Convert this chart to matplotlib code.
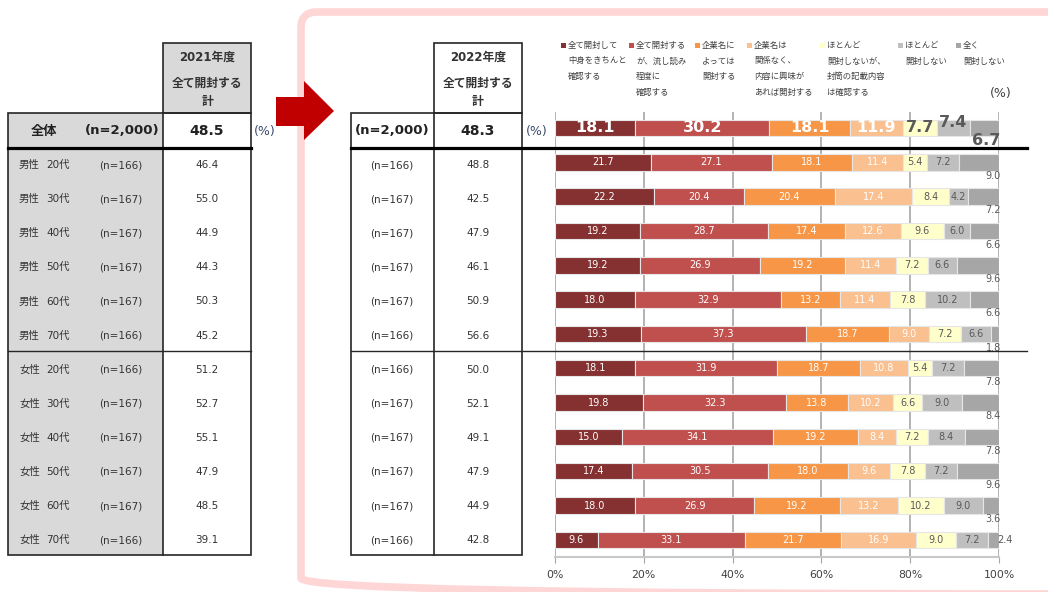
import numpy as np
import matplotlib
matplotlib.use('Agg')
import matplotlib.pyplot as plt
from matplotlib.patches import Rectangle, Polygon, FancyBboxPatch

plt.rcParams['font.family'] = ['DejaVu Sans', 'Noto Sans CJK JP']

# ---- data ----
legend_labels = [
    '全て開封して\n中身をきちんと\n確認する',
    '全て開封する\nが、流し読み\n程度に\n確認する',
    '企業名に\nよっては\n開封する',
    '企業名は\n関係なく、\n内容に興味が\nあれば開封する',
    'ほとんど\n開封しないが、\n封筒の記載内容\nは確認する',
    'ほとんど\n開封しない',
    '全く\n開封しない',
]
seg_colors = ['#853131', '#c0504d', '#f79646', '#fac090', '#ffffcc', '#bfbfbf', '#a6a6a6']

groups = ['男性 20代', '男性 30代', '男性 40代', '男性 50代', '男性 60代', '男性 70代',
          '女性 20代', '女性 30代', '女性 40代', '女性 50代', '女性 60代', '女性 70代']
n_size = [166, 167, 167, 167, 167, 166, 166, 167, 167, 167, 167, 166]
total_2021 = [46.4, 55.0, 44.9, 44.3, 50.3, 45.2, 51.2, 52.7, 55.1, 47.9, 48.5, 39.1]
total_2022 = [48.8, 42.5, 47.9, 46.1, 50.9, 56.6, 50.0, 52.1, 49.1, 47.9, 44.9, 42.8]
overall_2021 = 48.5
overall_2022 = 48.3

overall_shares = [18.1, 30.2, 18.1, 11.9, 7.7, 7.4, 6.7]
group_shares = [
    [21.7, 27.1, 18.1, 11.4, 5.4, 7.2, 9.0],
    [22.2, 20.4, 20.4, 17.4, 8.4, 4.2, 7.2],
    [19.2, 28.7, 17.4, 12.6, 9.6, 6.0, 6.6],
    [19.2, 26.9, 19.2, 11.4, 7.2, 6.6, 9.6],
    [18.0, 32.9, 13.2, 11.4, 7.8, 10.2, 6.6],
    [19.3, 37.3, 18.7, 9.0, 7.2, 6.6, 1.8],
    [18.1, 31.9, 18.7, 10.8, 5.4, 7.2, 7.8],
    [19.8, 32.3, 13.8, 10.2, 6.6, 9.0, 8.4],
    [15.0, 34.1, 19.2, 8.4, 7.2, 8.4, 7.8],
    [17.4, 30.5, 18.0, 9.6, 7.8, 7.2, 9.6],
    [18.0, 26.9, 19.2, 13.2, 10.2, 9.0, 3.6],
    [9.6, 33.1, 21.7, 16.9, 9.0, 7.2, 2.4],
]
x_ticks = [0, 20, 40, 60, 80, 100]

TXT = '#333333'
LINE = '#262626'
GRAY = '#d9d9d9'
PCT = '#3b4a6b'

fig = plt.figure(figsize=(10.48, 5.92), dpi=100)
fig.patch.set_facecolor('white')

# stacked bar chart
ax = fig.add_axes([555 / 1048, (592 - 557) / 592, 444 / 1048, 445 / 592], zorder=1)
# overlay in pixel coordinates for tables, arrow, frame, legend
bg = fig.add_axes([0, 0, 1, 1], zorder=3)
bg.set_xlim(0, 1048)
bg.set_ylim(592, 0)
bg.axis('off')

# ---- bars ----
data = np.array([overall_shares] + group_shares)
lefts = np.cumsum(data, axis=1) - data
ypos = np.arange(len(data))
for j in range(data.shape[1]):
    ax.barh(ypos, data[:, j], left=lefts[:, j], height=0.48, color=seg_colors[j],
            edgecolor='#e6e6e6', linewidth=0.8, zorder=2)

for i in ypos:
    big = i == 0
    fs = 11.5 if big else 7
    fw = 'bold' if big else 'normal'
    for j in range(6):
        v = data[i, j]
        col = 'white' if j < 4 else '#595959'
        yy = i - 0.17 if (big and j == 5) else i
        ax.text(lefts[i, j] + v / 2, yy, f'{v:.1f}', ha='center', va='center',
                fontsize=fs, fontweight=fw, color=col, zorder=3)
    v = data[i, 6]
    if i == len(data) - 1:
        ax.text(99.5, i, f'{v:.1f}', ha='left', va='center', fontsize=fs, color='#595959')
    else:
        ax.text(100.4, i + (0.36 if big else 0.4), f'{v:.1f}', ha='right', va='center',
                fontsize=fs, fontweight=fw, color='#595959')

ax.set_xlim(0, 100)
ax.set_ylim(12.5, -0.466)
ax.set_xticks(x_ticks)
ax.set_xticklabels([f'{t}%' for t in x_ticks])
ax.set_yticks([])
ax.grid(axis='x', color='#a6a6a6', linewidth=1.2)
ax.set_axisbelow(True)
for s in ['left', 'top', 'right']:
    ax.spines[s].set_visible(False)
ax.spines['bottom'].set_color('#c8c8c8')
ax.spines['bottom'].set_linewidth(1.5)
ax.tick_params(axis='x', length=4, color='#a6a6a6', labelsize=7.8, labelcolor='#404040', pad=5)
ax.patch.set_alpha(0)

# ---- pink frame and arrow ----
bg.add_patch(FancyBboxPatch((301, 12), 780, 582, boxstyle='round,pad=0,rounding_size=16',
                            fc='none', ec='#ffd6d6', lw=5.5))
bg.add_patch(Polygon([(276, 97), (304, 97), (304, 81), (334, 111), (304, 140), (304, 126), (276, 126)],
                     closed=True, fc='#c00000', ec='none'))

# ---- left table (2021) ----
bg.add_patch(Rectangle((163, 43), 88, 70, fc=GRAY, ec=LINE, lw=1.2))
bg.add_patch(Rectangle((8, 113), 155, 442, fc=GRAY, ec='none'))
bg.add_patch(Rectangle((8, 113), 243, 442, fc='none', ec=LINE, lw=1.2))
bg.plot([163, 163], [113, 555], color=LINE, lw=1.2)
bg.plot([8, 251], [148, 148], color='black', lw=2.3)
bg.plot([8, 251], [351, 351], color=LINE, lw=1.0)

# ---- right table (2022) ----
bg.add_patch(Rectangle((434, 43), 88, 70, fc='white', ec=LINE, lw=1.2))
bg.add_patch(Rectangle((351, 113), 171, 442, fc='none', ec=LINE, lw=1.2))
bg.plot([434, 434], [113, 555], color=LINE, lw=1.2)
bg.plot([351, 1027], [148, 148], color='black', lw=2.3)
bg.plot([351, 1027], [351, 351], color=LINE, lw=1.0)

for cx, year in [(207, '2021年度'), (478, '2022年度')]:
    bg.text(cx, 57, year, ha='center', va='center', fontsize=8.5, fontweight='bold', color=TXT)
    bg.text(cx, 83, '全て開封する', ha='center', va='center', fontsize=8.5, fontweight='bold', color=TXT)
    bg.text(cx, 101, '計', ha='center', va='center', fontsize=8.5, fontweight='bold', color=TXT)

bg.text(44, 131, '全体', ha='center', va='center', fontsize=9.5, fontweight='bold', color='#222222')
bg.text(122, 131, '(n=2,000)', ha='center', va='center', fontsize=9.5, fontweight='bold', color='#222222')
bg.text(207, 131, f'{overall_2021:.1f}', ha='center', va='center', fontsize=10, fontweight='bold', color='#222222')
bg.text(265, 131, '(%)', ha='center', va='center', fontsize=9, color=PCT)
bg.text(392, 131, '(n=2,000)', ha='center', va='center', fontsize=9.5, fontweight='bold', color='#222222')
bg.text(478, 131, f'{overall_2022:.1f}', ha='center', va='center', fontsize=10, fontweight='bold', color='#222222')
bg.text(537, 131, '(%)', ha='center', va='center', fontsize=9, color=PCT)

for i, (g, n, v21, v22) in enumerate(zip(groups, n_size, total_2021, total_2022)):
    y = 131 + 34.1 * (i + 1)
    gender, age = g.split()
    bg.text(19, y, gender, ha='left', va='center', fontsize=7.5, color=TXT)
    bg.text(46, y, age, ha='left', va='center', fontsize=7.5, color=TXT)
    bg.text(121, y, f'(n={n})', ha='center', va='center', fontsize=7.5, color=TXT)
    bg.text(207, y, f'{v21:.1f}', ha='center', va='center', fontsize=7.5, color=TXT)
    bg.text(392, y, f'(n={n})', ha='center', va='center', fontsize=7.5, color=TXT)
    bg.text(478, y, f'{v22:.1f}', ha='center', va='center', fontsize=7.5, color=TXT)

# ---- legend ----
legend_x = [563, 631, 697, 749, 822, 900, 958]
for lx, lab, c in zip(legend_x, legend_labels, seg_colors):
    bg.add_patch(Rectangle((lx - 2, 43), 4.5, 4.5, fc=c, ec='none'))
    for k, line in enumerate(lab.split('\n')):
        bg.text(lx + 5, 45.5 + 15.5 * k, line, ha='left', va='center', fontsize=6, color='#404040')
bg.text(1001, 93, '(%)', ha='center', va='center', fontsize=9, color='#404040')

fig.savefig('out.png', dpi=100, facecolor='white')
